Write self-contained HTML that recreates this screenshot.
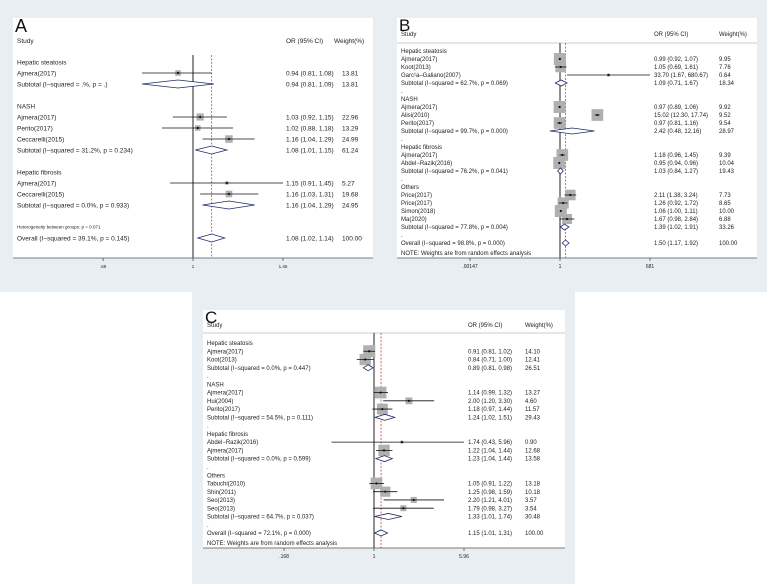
<!DOCTYPE html>
<html><head><meta charset="utf-8"><style>
body{margin:0;background:#fff;}
svg{display:block;font-family:"Liberation Sans",sans-serif;}
</style></head><body>
<svg id="fig" width="767" height="584" viewBox="0 0 767 584" xmlns="http://www.w3.org/2000/svg">
<rect x="0" y="0" width="767" height="292" fill="#e8eef2"/>
<rect x="192" y="292" width="383" height="292" fill="#e8eef2"/>
</svg>
<script>
// ---------- Panel A data ----------
const aLabels=["Hepatic steatosis","Ajmera(2017)","Subtotal  (I\u2212squared = .%, p = .)","","NASH","Ajmera(2017)","Perito(2017)","Ceccarelli(2015)","Subtotal  (I\u2212squared = 31.2%, p = 0.234)","","Hepatic fibrosis","Ajmera(2017)","Ceccarelli(2015)","Subtotal  (I\u2212squared = 0.0%, p = 0.933)","","Heterogeneity between groups: p = 0.071","Overall  (I\u2212squared = 39.1%, p = 0.145)"];
const aTypes=["h","s","t","b","h","s","s","s","t","b","h","s","s","t","b","x","o"];
const aOR=[0,0.94,0.94,0,0,1.03,1.02,1.16,1.08,0,0,1.15,1.16,1.16,0,0,1.08];
const aLo=[0,0.81,0.81,0,0,0.92,0.88,1.04,1.01,0,0,0.91,1.03,1.04,0,0,1.02];
const aHi=[0,1.08,1.09,0,0,1.15,1.18,1.29,1.15,0,0,1.45,1.31,1.29,0,0,1.14];
const aW=[0,13.81,13.81,0,0,22.96,13.29,24.99,61.24,0,0,5.27,19.68,24.95,0,0,100.00];
const aTicks=[0.69,1,1.45];
const aTickLabels=[".69","1","1.45"];
// ---------- Panel B data ----------
const bLabels=["Hepatic steatosis","Ajmera(2017)","Koot(2013)","Garc\u00b9a\u2013Galiano(2007)","Subtotal  (I\u2212squared = 62.7%, p = 0.069)",".","NASH","Ajmera(2017)","Alisi(2010)","Perito(2017)","Subtotal  (I\u2212squared = 99.7%, p = 0.000)",".","Hepatic fibrosis","Ajmera(2017)","Abdel\u2212Razik(2016)","Subtotal  (I\u2212squared = 76.2%, p = 0.041)",".","Others","Price(2017)","Price(2017)","Simon(2018)","Ma(2020)","Subtotal  (I\u2212squared = 77.8%, p = 0.004)",".","Overall  (I\u2212squared = 98.8%, p = 0.000)"];
const bTypes=["h","s","s","s","t","d","h","s","s","s","t","d","h","s","s","t","d","h","s","s","s","s","t","d","o"];
const bOR=[0,0.99,1.05,33.70,1.09,0,0,0.97,15.02,0.97,2.42,0,0,1.18,0.95,1.03,0,0,2.11,1.26,1.06,1.67,1.39,0,1.50];
const bLo=[0,0.92,0.69,1.67,0.71,0,0,0.89,12.30,0.81,0.48,0,0,0.96,0.94,0.84,0,0,1.38,0.92,1.00,0.98,1.02,0,1.17];
const bHi=[0,1.07,1.61,680.67,1.67,0,0,1.06,17.74,1.16,12.16,0,0,1.45,0.96,1.27,0,0,3.24,1.72,1.11,2.84,1.91,0,1.92];
const bW=[0,9.95,7.76,0.64,18.34,0,0,9.92,9.52,9.54,28.97,0,0,9.39,10.04,19.43,0,0,7.73,8.65,10.00,6.88,33.26,0,100.00];
const bTicks=[0.00147,1,681];
const bTickLabels=[".00147","1","681"];
// ---------- Panel C data ----------
const cLabels=["Hepatic steatosis","Ajmera(2017)","Koot(2013)","Subtotal  (I\u2212squared = 0.0%, p = 0.447)",".","NASH","Ajmera(2017)","Hui(2004)","Perito(2017)","Subtotal  (I\u2212squared = 54.5%, p = 0.111)",".","Hepatic fibrosis","Abdel\u2212Razik(2016)","Ajmera(2017)","Subtotal  (I\u2212squared = 0.0%, p = 0.599)",".","Others","Tabuchi(2010)","Shin(2011)","Seo(2013)","Seo(2013)","Subtotal  (I\u2212squared = 64.7%, p = 0.037)",".","Overall  (I\u2212squared = 72.1%, p = 0.000)"];
const cTypes=["h","s","s","t","d","h","s","s","s","t","d","h","s","s","t","d","h","s","s","s","s","t","d","o"];
const cOR=[0,0.91,0.84,0.89,0,0,1.14,2.00,1.18,1.24,0,0,1.74,1.22,1.23,0,0,1.05,1.25,2.20,1.79,1.33,0,1.15];
const cLo=[0,0.81,0.71,0.81,0,0,0.99,1.20,0.97,1.02,0,0,0.43,1.04,1.04,0,0,0.91,0.98,1.21,0.98,1.01,0,1.01];
const cHi=[0,1.02,1.00,0.98,0,0,1.32,3.30,1.44,1.51,0,0,5.96,1.44,1.44,0,0,1.22,1.59,4.01,3.27,1.74,0,1.31];
const cW=[0,14.10,12.41,26.51,0,0,13.27,4.60,11.57,29.43,0,0,0.90,12.68,13.58,0,0,13.18,10.18,3.57,3.54,30.48,0,100.00];
const cTicks=[0.168,1,5.96];
const cTickLabels=[".168","1","5.96"];

const NS="http://www.w3.org/2000/svg";
const svg=document.getElementById('fig');
function mk(tag,attrs,parent){const e=document.createElementNS(NS,tag);for(const k in attrs)e.setAttribute(k,attrs[k]);(parent||svg).appendChild(e);return e;}
function txt(x,y,s,size,parent,anchor){const t=mk('text',{x:x,y:y,'font-size':size,fill:'#222','text-anchor':anchor||'start'},parent);t.textContent=s;return t;}

function panel(cfg,labels,types,or,lo,hi,w,ticks,tickLabels){
  const g=mk('g',{});
  
  
  const r=mk('rect',{x:cfg.x0,y:cfg.y0,width:cfg.x1-cfg.x0,height:cfg.axisY-cfg.y0,fill:'#fff'},g);
  
  
  const k=cfg.span/Math.log(ticks[2]);
  const sx=v=>cfg.c+Math.log(v)*k;
  const clip=v=>Math.max(cfg.x0+2,Math.min(cfg.x1-2,v));
  const L=mk('text',{x:cfg.x0+2,y:cfg.letterY,'font-size':cfg.letterSize,fill:'#111'},g);L.textContent=cfg.letter;
  
  
  const hs=[["Study",cfg.x0+4,'study-header'],["OR (95% CI)",cfg.vx,'or-header'],["Weight(%)",cfg.wx,'weight-header']];
  hs.forEach(h=>{const t=txt(h[1],cfg.headY,h[0],cfg.fs,g);});
  if(cfg.headLine){const hl=mk('line',{x1:cfg.x0,x2:cfg.x1,y1:cfg.lineY,y2:cfg.lineY,stroke:'#999','stroke-width':0.6},g);}
  const nl=mk('line',{x1:cfg.c,x2:cfg.c,y1:cfg.lineY,y2:cfg.axisY,stroke:'#555','stroke-width':1.3},g);
  
  const oi=types.indexOf('o');
  const dl=mk('line',{x1:sx(or[oi]),x2:sx(or[oi]),y1:cfg.lineY,y2:cfg.axisY,stroke:'#d9534f','stroke-width':0.9,'stroke-dasharray':'2,1.5'},g);
  
  labels.forEach((lab,i)=>{
    const y=cfg.rowY+i*cfg.step, t=types[i];
    if(t==='b')return;
    const size=t==='x'?cfg.fs*0.7:cfg.fs;
    const tl=txt(cfg.x0+4,y+size*0.35,lab,size,g);
    
    if(t==='s'||t==='t'||t==='o'){
      const vt=txt(cfg.vx,y+cfg.fs*0.35,or[i].toFixed(2)+" ("+lo[i].toFixed(2)+", "+hi[i].toFixed(2)+")",cfg.fs,g);
      
      const wt=txt(cfg.wx+cfg.wOff,y+cfg.fs*0.35,w[i].toFixed(2),cfg.fs,g);
      
    }
    if(t==='s'){
      const s=cfg.sq*Math.sqrt(w[i]);
      const sqr=mk('rect',{x:sx(or[i])-s/2,y:y-s/2,width:s,height:s,fill:'#b0b0b0'},g);
      
      const x2=clip(sx(hi[i]));
      const ci=mk('line',{x1:clip(sx(lo[i])),x2:x2,y1:y,y2:y,stroke:'#111','stroke-width':0.8},g);
      
      if(sx(hi[i])>=cfg.x1-12&&cfg.arrow){const ar=mk('path',{d:`M${x2-4},${y-2.5} L${x2},${y} L${x2-4},${y+2.5}`,fill:'none',stroke:'#111','stroke-width':0.8},g);}
      const pt=mk('circle',{cx:sx(or[i]),cy:y,r:1.1,fill:'#111'},g);
      
    }
    if(t==='t'||t==='o'){
      const h=cfg.dh;
      const d=mk('polygon',{points:`${sx(lo[i])},${y} ${sx(or[i])},${y-h} ${sx(hi[i])},${y} ${sx(or[i])},${y+h}`,fill:'#fff',stroke:'#1f2a6b','stroke-width':0.8},g);
      
    }
  });
  if(cfg.note){const n=txt(cfg.x0+4,cfg.axisY-3,"NOTE: Weights are from random effects analysis",cfg.fs,g);}
  const ax=mk('line',{x1:cfg.x0,x2:cfg.x1,y1:cfg.axisY,y2:cfg.axisY,stroke:'#555','stroke-width':0.8},g);
  
  ticks.forEach((tv,j)=>{
    const tk=mk('line',{x1:sx(tv),x2:sx(tv),y1:cfg.axisY,y2:cfg.axisY+3,stroke:'#555','stroke-width':0.8},g);
    
    const tt=txt(sx(tv),cfg.axisY+10,tickLabels[j],cfg.tfs,g,'middle');
    
  });
}
panel({name:'panel-a',letter:'A',x0:13,x1:373,y0:18,axisY:258,letterY:32,letterSize:18,headY:43,lineY:55,headLine:false,c:193,span:90,vx:286,wx:334,wOff:8,rowY:62,step:11,fs:6.5,tfs:4.5,sq:1.5,dh:4,arrow:false,note:false},aLabels,aTypes,aOR,aLo,aHi,aW,aTicks,aTickLabels);
panel({name:'panel-b',letter:'B',x0:397,x1:757,y0:18,axisY:258,letterY:31,letterSize:17,headY:36,lineY:43,headLine:true,c:560,span:90,vx:654,wx:719,wOff:0,rowY:51,step:8,fs:6,tfs:5,sq:3.8,dh:3,arrow:false,note:true},bLabels,bTypes,bOR,bLo,bHi,bW,bTicks,bTickLabels);
panel({name:'panel-c',letter:'C',x0:203,x1:565,y0:310,axisY:548,letterY:323,letterSize:17,headY:327,lineY:333,headLine:true,c:374,span:90,vx:468,wx:525,wOff:0,rowY:343,step:8.26,fs:6,tfs:5,sq:3.2,dh:3,arrow:true,note:true},cLabels,cTypes,cOR,cLo,cHi,cW,cTicks,cTickLabels);
</script>
</body></html>
